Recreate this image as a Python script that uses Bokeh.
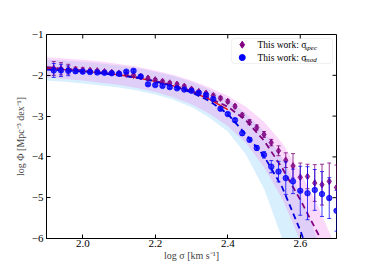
import numpy as np
from bokeh.plotting import figure
from bokeh.models import ColumnDataSource, BoxAnnotation, Label, FixedTicker
from bokeh.embed import file_html
from bokeh.resources import INLINE

# ---------------- data ----------------
# model curves
curve_x = [1.90, 1.95, 2.00, 2.05, 2.10, 2.15, 2.20, 2.25, 2.30, 2.35, 2.40, 2.45, 2.50, 2.55, 2.60, 2.65, 2.70]
spec_fit = [-1.80, -1.84, -1.88, -1.93, -1.98, -2.05, -2.14, -2.25, -2.38, -2.56, -2.77, -3.10, -3.60, -4.27, -5.05, -5.90, -6.85]
spec_hi = [-1.56, -1.59, -1.62, -1.66, -1.72, -1.79, -1.88, -1.99, -2.13, -2.30, -2.50, -2.77, -3.14, -3.66, -4.37, -5.23, -6.25]
spec_lo = [-2.05, -2.09, -2.13, -2.18, -2.23, -2.31, -2.41, -2.54, -2.71, -2.94, -3.24, -3.66, -4.25, -5.02, -6.05, -7.20, -8.50]
mod_fit = [-1.86, -1.88, -1.91, -1.95, -2.00, -2.06, -2.15, -2.27, -2.42, -2.63, -2.95, -3.45, -3.98, -4.74, -5.80, -7.00, -8.30]
mod_hi = [-1.62, -1.64, -1.67, -1.71, -1.76, -1.82, -1.91, -2.02, -2.16, -2.35, -2.60, -2.93, -3.38, -4.02, -4.90, -6.10, -7.50]
mod_lo = [-2.13, -2.16, -2.20, -2.25, -2.30, -2.37, -2.47, -2.60, -2.78, -3.04, -3.38, -3.94, -4.78, -6.00, -7.40, -9.00, -10.50]

red_x = [1.90, 1.95, 2.00, 2.05, 2.10, 2.15, 2.20, 2.25, 2.30, 2.35, 2.40]
red_y = [-1.83, -1.86, -1.90, -1.94, -1.99, -2.06, -2.15, -2.26, -2.40, -2.59, -2.84]

# binned measurements
sig = [1.92, 1.94, 1.96, 1.98, 2.00, 2.02, 2.04, 2.06, 2.08, 2.10,
       2.12, 2.14, 2.16, 2.18, 2.20, 2.22, 2.24, 2.26, 2.28, 2.30,
       2.32, 2.34, 2.36, 2.38, 2.40, 2.42, 2.44, 2.46, 2.48, 2.50,
       2.52, 2.54, 2.56, 2.58, 2.60, 2.62, 2.64, 2.66, 2.68, 2.70]
phi_spec = [-1.83, -1.84, -1.85, -1.86, -1.87, -1.88, -1.89, -1.91, -1.93, -1.95,
            -1.97, -2.00, -2.03, -2.07, -2.11, -2.15, -2.19, -2.22, -2.27, -2.34,
            -2.40, -2.44, -2.50, -2.56, -2.64, -2.76, -2.98, -3.15, -3.28, -3.45,
            -3.65, -3.85, -4.08, -4.22, -4.50, -4.48, -4.64, -4.68, -4.60, -4.75]
err_spec = [0.17, 0.15, 0.12, 0.06, 0.05, 0.03, 0.03, 0.03, 0.03, 0.03,
            0.03, 0.03, 0.03, 0.03, 0.03, 0.03, 0.03, 0.03, 0.03, 0.03,
            0.03, 0.03, 0.04, 0.04, 0.04, 0.04, 0.05, 0.06, 0.06, 0.07,
            0.08, 0.12, 0.18, 0.30, 0.35, 0.30, 0.45, 0.50, 0.45, 0.55]
phi_mod = [-1.88, -1.88, -1.89, -1.90, -1.91, -1.92, -1.93, -1.94, -1.95, -1.96,
           -1.91, -1.89, -2.03, -2.22, -2.24, -2.26, -2.29, -2.32, -2.35, -2.38,
           -2.43, -2.48, -2.58, -2.82, -2.95, -3.10, -3.42, -3.58, -3.78, -3.95,
           -4.24, -4.36, -4.52, -4.60, -4.83, -4.89, -4.81, -4.91, -5.01, -5.32]
err_mod = [0.17, 0.15, 0.12, 0.05, 0.04, 0.03, 0.03, 0.03, 0.03, 0.03,
           0.03, 0.03, 0.03, 0.03, 0.03, 0.03, 0.03, 0.03, 0.03, 0.03,
           0.03, 0.03, 0.03, 0.04, 0.04, 0.04, 0.05, 0.05, 0.06, 0.08,
           0.15, 0.25, 0.40, 0.30, 0.60, 0.65, 0.50, 0.55, 0.50, 0.50]

x_ticks = [2.0, 2.2, 2.4, 2.6]
y_ticks = [-1, -2, -3, -4, -5, -6]

legend_labels = ["This work: \u03c3", "This work: \u03c3"]
legend_subs = ["spec", "mod"]

# ---------------- style ----------------
PURPLE = "#800080"
BLUE = "#0000ff"
SERIF = "Liberation Serif"
X0, X1, Y0, Y1 = 1.9, 2.7, -6.0, -1.0
FW, FH = 290, 204

p = figure(frame_width=FW, frame_height=FH, x_range=(X0, X1), y_range=(Y0, Y1),
           output_backend="svg", toolbar_location=None,
           min_border_left=46, min_border_top=34, min_border_right=22, min_border_bottom=22)
p.background_fill_color = "white"
p.border_fill_color = "white"
p.outline_line_color = "black"
p.outline_line_width = 1
p.xgrid.visible = False
p.ygrid.visible = False

# bands
p.varea(x=curve_x, y1=mod_lo, y2=mod_hi, fill_color="#87cefa", fill_alpha=0.32)
p.varea(x=curve_x, y1=spec_lo, y2=spec_hi, fill_color="#ee82ee", fill_alpha=0.30)

# model lines
p.line(red_x, red_y, line_color="#dd1111", line_width=1.3)
p.line(curve_x, spec_fit, line_color=PURPLE, line_width=1.8, line_dash="6 4")
p.line(curve_x, mod_fit, line_color="#0000dd", line_width=1.8, line_dash="6 4")

# data points with error bars
def draw_points(xv, yv, ev, color, marker, size, alpha):
    xv = np.array(xv); yv = np.array(yv); ev = np.array(ev)
    src = ColumnDataSource(dict(x=xv, y=yv, lo=yv - ev, hi=yv + ev))
    p.segment(x0="x", y0="lo", x1="x", y1="hi", source=src, line_color=color, line_width=1, line_alpha=alpha)
    p.scatter(x="x", y="lo", source=src, marker="dash", size=4, line_color=color, line_alpha=alpha)
    p.scatter(x="x", y="hi", source=src, marker="dash", size=4, line_color=color, line_alpha=alpha)
    p.scatter(x="x", y="y", source=src, marker=marker, size=size, fill_color=color,
              line_color=color, fill_alpha=alpha, line_alpha=alpha)

draw_points(sig, phi_spec, err_spec, PURPLE, "diamond", 6.5, 0.8)
draw_points(sig, phi_mod, err_mod, BLUE, "circle", 5.5, 0.75)

# axes
for ax in (p.xaxis[0], p.yaxis[0]):
    ax.major_tick_in = 4
    ax.major_tick_out = 0
    ax.minor_tick_in = 0
    ax.minor_tick_out = 0
    ax.axis_line_color = "black"
    ax.major_label_text_font = SERIF
    ax.major_label_text_font_size = "11px"
    ax.major_label_text_color = "black"
    ax.major_label_standoff = 3
    ax.axis_label_text_font = SERIF
    ax.axis_label_text_font_size = "10px"
    ax.axis_label_text_font_style = "normal"
    ax.axis_label_standoff = 3
p.xaxis[0].major_label_standoff = 1
p.xaxis[0].axis_label_standoff = 0

p.xaxis[0].ticker = FixedTicker(ticks=x_ticks)
p.yaxis[0].ticker = FixedTicker(ticks=y_ticks)
p.xaxis[0].major_label_overrides = {t: f"{t:.1f}" for t in x_ticks}
p.yaxis[0].major_label_overrides = {t: "\u2212" + str(abs(t)) for t in y_ticks}
p.xaxis[0].axis_label = "log \u03c3 [km s\u207b\u00b9]"
p.yaxis[0].axis_label = "log \u03a6 [Mpc\u207b\u00b3 dex\u207b\u00b9]"

# inward ticks on top and right edges
tx = 4.0 * (X1 - X0) / FW
ty = 4.0 * (Y1 - Y0) / FH
p.segment(x0=x_ticks, y0=[Y1] * len(x_ticks), x1=x_ticks, y1=[Y1 - ty] * len(x_ticks),
          line_color="black", line_width=1)
inner_y = y_ticks[1:-1]
p.segment(x0=[X1] * len(inner_y), y0=inner_y, x1=[X1 - tx] * len(inner_y), y1=inner_y,
          line_color="black", line_width=1)

# legend (drawn manually for sub-scripted labels)
box = BoxAnnotation(left=2.410, right=2.689, top=-1.098, bottom=-1.711,
                    fill_color="white", fill_alpha=1.0, line_color="#cccccc", line_width=1,
                    border_radius=3, level="underlay")
p.add_layout(box)
leg_y = [-1.25, -1.565]
p.scatter([2.440], [leg_y[0]], marker="diamond", size=7, fill_color=PURPLE, line_color=PURPLE)
p.segment([2.440], [leg_y[0] - 0.06], [2.440], [leg_y[0] + 0.06], line_color=PURPLE, line_width=1)
p.scatter([2.440], [leg_y[1]], marker="circle", size=6, fill_color=BLUE, line_color=BLUE)
for lab, sub, yy in zip(legend_labels, legend_subs, leg_y):
    p.add_layout(Label(x=2.482, y=yy, text=lab, text_font=SERIF, text_font_size="9.5px",
                       text_baseline="middle", text_color="black"))
    p.add_layout(Label(x=2.612, y=yy - 0.07, text=sub, text_font=SERIF, text_font_size="7px",
                       text_font_style="italic", text_baseline="middle", text_color="black"))

open("out.html", "w").write(file_html(p, INLINE))
